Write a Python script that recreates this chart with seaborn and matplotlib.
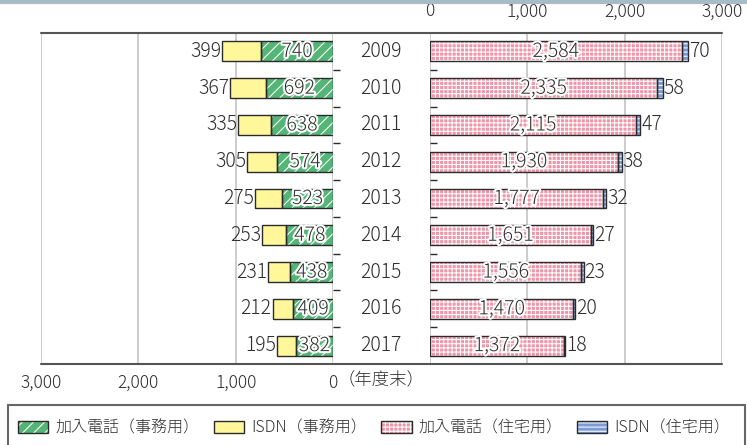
import matplotlib
matplotlib.use("Agg")
import numpy as np
import pandas as pd
import matplotlib.pyplot as plt
import matplotlib.patheffects as pe
import matplotlib.transforms as mtransforms
from matplotlib.lines import Line2D
from matplotlib.patches import Patch, Rectangle
import seaborn as sns

# data (thousand lines, end of fiscal year)
years = ["2009", "2010", "2011", "2012", "2013", "2014", "2015", "2016", "2017"]
biz_phone = [740, 692, 638, 574, 523, 478, 438, 409, 382]
biz_isdn = [399, 367, 335, 305, 275, 253, 231, 212, 195]
res_phone = [2584, 2335, 2115, 1930, 1777, 1651, 1556, 1470, 1372]
res_isdn = [70, 58, 47, 38, 32, 27, 23, 20, 18]
legend_labels = ["加入電話（事務用）", "ISDN（事務用）", "加入電話（住宅用）", "ISDN（住宅用）"]
x_ticks = [0, 1000, 2000, 3000]
unit_label = "（年度末）"

df = pd.DataFrame({"year": years, "biz_phone": biz_phone, "biz_isdn": biz_isdn,
                   "res_phone": res_phone, "res_isdn": res_isdn})

sns.set_style("white")
plt.rcParams["font.family"] = ["Noto Sans CJK JP", "DejaVu Sans"]
plt.rcParams["font.weight"] = "light"
plt.rcParams["hatch.linewidth"] = 0.75

GREEN = "#55b577"
YELLOW = "#fff799"
PINK = "#f095a8"
BLUE = "#7b9bd6"
EDGE = "#2b2b2b"
TXT = "#2e2e2e"
GRID = "#c8c8c8"
BW = 0.54
FS = 14
W, H = 747, 445

fig = plt.figure(figsize=(W / 100, H / 100), dpi=100)
ax_l = fig.add_axes([41 / W, 1 - 364 / H, 292 / W, 331 / H])
ax_r = fig.add_axes([430 / W, 1 - 364 / H, 292 / W, 331 / H])


def layer(ax, col, left, color, hatch):
    sns.barplot(data=df, x=col, y="year", left=left, color=color, hatch=hatch,
                edgecolor="white", linewidth=0, width=BW, errorbar=None,
                saturation=1, orient="h", ax=ax, zorder=2)
    sns.barplot(data=df, x=col, y="year", left=left, color=EDGE, fill=False,
                linewidth=1, width=BW, errorbar=None, orient="h", ax=ax, zorder=3)


layer(ax_l, "biz_phone", np.zeros(len(years)), GREEN, "///")
layer(ax_l, "biz_isdn", np.array(biz_phone), YELLOW, None)
layer(ax_r, "res_phone", np.zeros(len(years)), PINK, "++++")
layer(ax_r, "res_isdn", np.array(res_phone), BLUE, "----")

halo = [pe.withStroke(linewidth=3, foreground="white")]
for i in range(len(years)):
    ax_l.text(biz_phone[i] / 2, i, f"{biz_phone[i]:,}", ha="center", va="center",
              fontsize=FS, color=TXT, path_effects=halo, zorder=5)
    ax_l.text(biz_phone[i] + biz_isdn[i] + 10, i, f"{biz_isdn[i]:,}", ha="right",
              va="center", fontsize=FS, color=TXT, zorder=5)
    ax_r.text(res_phone[i] / 2, i, f"{res_phone[i]:,}", ha="center", va="center",
              fontsize=FS, color=TXT, path_effects=halo, zorder=5)
    ax_r.text(res_phone[i] + res_isdn[i] + 10, i, f"{res_isdn[i]:,}", ha="left",
              va="center", fontsize=FS, color=TXT, zorder=5)

# year labels in the gap between the two panels
trans = mtransforms.blended_transform_factory(fig.transFigure, ax_r.transData)
for i, y in enumerate(years):
    ax_r.text(381 / W, i, y, transform=trans, ha="center", va="center",
              fontsize=FS, color=TXT, clip_on=False)

for ax in (ax_l, ax_r):
    ax.set_ylim(len(years) - 0.5, -0.5)
    ax.set_xlabel("")
    ax.set_ylabel("")
    ax.grid(axis="x", color=GRID, linewidth=1.3)
    ax.grid(axis="y", visible=False)
    ax.set_axisbelow(True)
    for s in ax.spines.values():
        s.set_visible(False)
    ax.set_yticks([])
    ax.set_yticks(np.arange(len(years) - 1) + 0.5, minor=True)
    ax.set_xticks(x_ticks, labels=[f"{v:,}" for v in x_ticks])
    ax.tick_params(axis="x", length=0, labelsize=12.5, labelcolor=TXT, pad=7)

ax_l.set_xlim(3000, 0)
ax_r.set_xlim(0, 3000)
ax_r.xaxis.tick_top()
ax_r.tick_params(axis="x", pad=9)

ax_l.tick_params(axis="y", which="minor", right=True, left=False, direction="out",
                 length=5, width=1, color=EDGE)
ax_r.tick_params(axis="y", which="minor", left=True, right=False, direction="in",
                 length=5, width=1, color=EDGE)

fig.text(338 / W, 1 - 380 / H, unit_label, ha="left", va="center", fontsize=12.5, color=TXT)

# frame lines and top border
fig.add_artist(Line2D([0, 1], [1 - 1.5 / H] * 2, color="#a8bcc6", linewidth=3))
for yy in (33, 364):
    fig.add_artist(Line2D([41 / W, 722 / W], [1 - yy / H] * 2, color="#555555", linewidth=1.5))

# legend
fig.add_artist(Rectangle((8 / W, -0.1), 737 / W, 0.1 + 1 - 405 / H, transform=fig.transFigure,
                         fill=False, edgecolor="#666666", linewidth=1.5))
handles = []
for c, h in [(GREEN, "///"), (YELLOW, None), (PINK, "++++"), (BLUE, "----")]:
    handles.append((Patch(facecolor=c, hatch=h, edgecolor="white", linewidth=0),
                    Patch(fill=False, edgecolor=EDGE, linewidth=1)))
fig.legend(handles, legend_labels, ncol=4, loc="center left", bbox_to_anchor=(18 / W, 1 - 428 / H),
           frameon=False, fontsize=11.5, handlelength=1.9, handleheight=0.8,
           handletextpad=0.44, columnspacing=0.9, borderpad=0, borderaxespad=0,
           labelcolor=TXT)

fig.savefig("out.png", dpi=100)
